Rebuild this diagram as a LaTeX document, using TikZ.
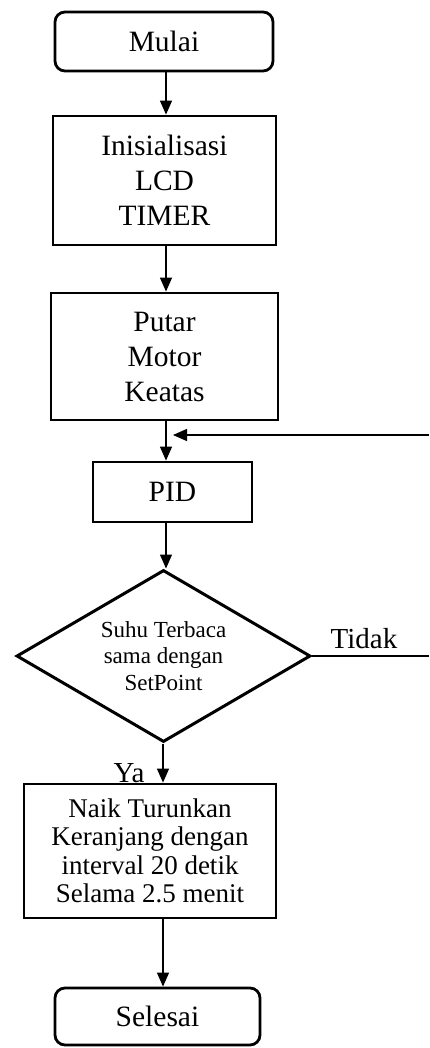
\documentclass[tikz,border=0pt]{standalone}
\usepackage{fontspec}
\setmainfont{Liberation Serif}
\usetikzlibrary{shapes.geometric,arrows.meta}
\begin{document}
\begin{tikzpicture}[x=1pt,y=-1pt,
  box/.style={draw,line width=2.8pt,inner sep=0pt,align=center,font=\fontsize{29.5}{35}\selectfont},
  term/.style={box,rounded corners=10pt},
  decision/.style={draw,shape=diamond,line width=3pt,inner sep=0pt,shape aspect=1.7,align=center,font=\fontsize{23}{26.5}\selectfont},
  arr/.style={line width=1.3pt,-{Triangle[length=14pt,width=12pt]}},
  thin/.style={line width=1.2pt},
  lbl/.style={inner sep=0pt,font=\fontsize{29}{32}\selectfont}]
\useasboundingbox (0,0) rectangle (429,1048);
\node[term,minimum width=218pt,minimum height=59pt] (mulai) at (164,41.5) {Mulai};
\node[box,minimum width=223pt,minimum height=129pt] (init) at (164.5,180.5) {Inisialisasi\\LCD\\TIMER};
\node[box,minimum width=227pt,minimum height=127pt] (putar) at (164.5,356.5) {Putar\\Motor\\Keatas};
\node[box,minimum width=159pt,minimum height=60pt] (pid) at (172.5,492) {PID};
\node[decision,minimum width=294pt,minimum height=172pt] (dec) at (163.5,656) {Suhu Terbaca\\sama dengan\\SetPoint};
\node[box,minimum width=252pt,minimum height=134pt,font=\fontsize{27}{28.5}\selectfont] (naik) at (150,851) {Naik Turunkan\\Keranjang dengan\\interval 20 detik\\Selama 2.5 menit};
\node[term,minimum width=205pt,minimum height=57pt] (selesai) at (157.5,1016.5) {Selesai};
\coordinate (ax) at (166,0);
\coordinate (ax2) at (163,0);
\coordinate (r1) at (429,435);
\coordinate (m1) at (173,435);
\coordinate (r2) at (429,656);
\draw[arr] (mulai.south -| ax) -- (init.north -| ax);
\draw[arr] (init.south -| ax) -- (putar.north -| ax);
\draw[arr] (putar.south -| ax) -- (pid.north -| ax);
\draw[arr] (r1) -- (m1);
\draw[arr] (pid.south -| ax) -- (dec.north -| ax);
\draw[arr] (dec.south -| ax2) -- (naik.north -| ax2);
\draw[arr] (naik.south -| ax2) -- (selesai.north -| ax2);
\draw[thin] (dec.east) -- (r2);
\node[lbl,anchor=base] (tidak) at (364,648) {Tidak};
\node[lbl,anchor=base] (ya) at (129,782) {Ya};
\end{tikzpicture}
\end{document}
